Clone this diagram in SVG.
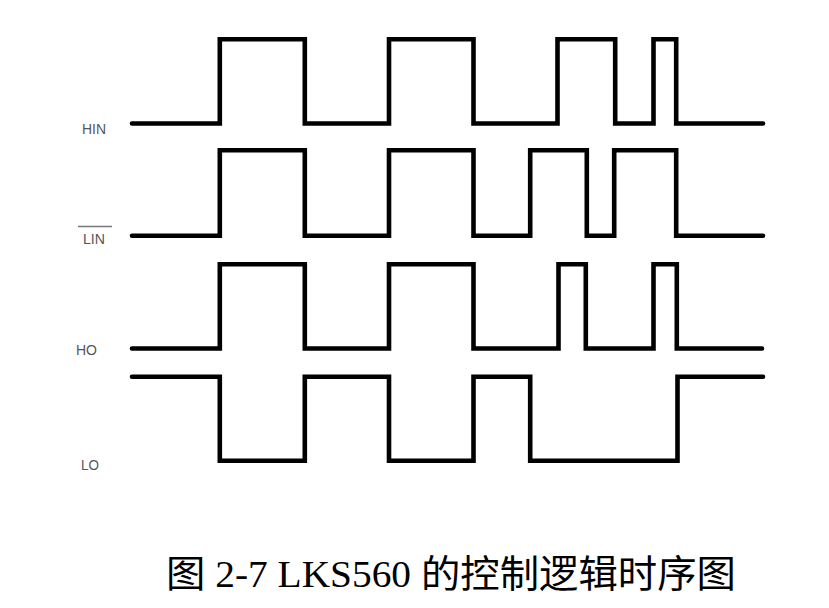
<svg xmlns="http://www.w3.org/2000/svg" width="829" height="608" viewBox="0 0 829 608">
<style>
.w{fill:none;stroke:#000;stroke-width:4.6;stroke-linejoin:miter;stroke-linecap:round}
.lbl{font-family:"Liberation Sans",Arial,sans-serif;font-size:14px;fill:#555}
.cap{font-family:"Liberation Serif","Noto Sans CJK SC",serif;font-size:38px;fill:#000}
</style>
<rect width="829" height="608" fill="#fff"/>
<g id="connectors">
<path id="hin-wave" class="w" d="M132,123.5 H219.8 V39.2 H304.8 V123.5 H389 V39.2 H473.5 V123.5 H557.5 V39.2 H615.2 V123.5 H653.5 V39.2 H676.2 V123.5 H763"/>
<path id="lin-wave" class="w" d="M132,235.8 H219.8 V150.2 H304.8 V235.8 H389 V150.2 H473.5 V235.8 H530.2 V150.2 H586.8 V235.8 H614.2 V150.2 H676.2 V235.8 H763"/>
<path id="ho-wave" class="w" d="M132,348.5 H219.8 V264.2 H304.8 V348.5 H389 V264.2 H473.5 V348.5 H558.5 V264.2 H585.8 V348.5 H653.5 V264.2 H676.8 V348.5 H762"/>
<path id="lo-wave" class="w" d="M132,376.7 H219.8 V460.8 H304.8 V376.7 H389 V460.8 H473.5 V376.7 H530.2 V460.8 H677.5 V376.7 H763"/>
</g>
<g id="HIN"><text class="lbl" x="82" y="134" textLength="24" lengthAdjust="spacingAndGlyphs">HIN</text></g>
<g id="LIN"><line x1="78" y1="226.5" x2="112" y2="226.5" stroke="#777" stroke-width="1.5"/><text class="lbl" x="83" y="244" textLength="22" lengthAdjust="spacingAndGlyphs">LIN</text></g>
<g id="HO"><text class="lbl" x="76" y="355" textLength="21" lengthAdjust="spacingAndGlyphs">HO</text></g>
<g id="LO"><text class="lbl" x="81" y="470" textLength="18" lengthAdjust="spacingAndGlyphs">LO</text></g>
<g id="caption"><text class="cap" x="166" y="587" textLength="570" lengthAdjust="spacingAndGlyphs">图 2-7 LKS560 的控制逻辑时序图</text></g>
</svg>
